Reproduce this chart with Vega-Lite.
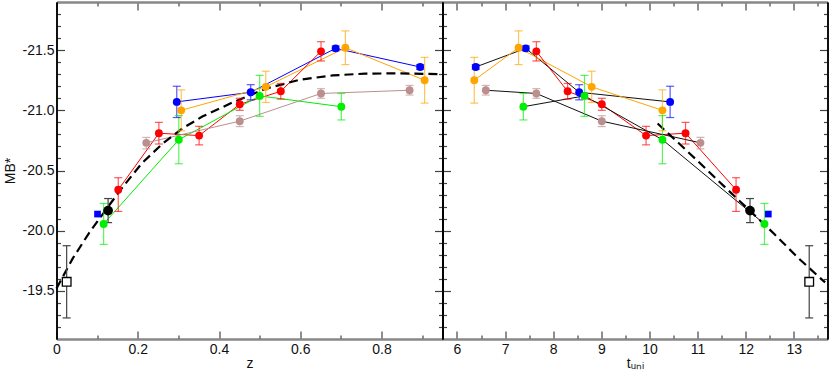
{
  "$schema": "https://vega.github.io/schema/vega-lite/v6.json",
  "padding": {"left": 2.5, "top": 1, "right": 2, "bottom": 0},
  "spacing": 0,
  "bounds": "flush",
  "config": {
    "view": {"stroke": null},
    "font": "Liberation Sans",
    "axis": {"grid": false, "labelFont": "Liberation Sans", "labelFontSize": 14, "labelColor": "#111", "titleFont": "Liberation Sans", "titleFontSize": 14, "titleFontWeight": "normal", "titleColor": "#111", "tickColor": "#444", "tickWidth": 1.2, "labelFlush": false, "labelOverlap": false}
  },
  "datasets": {
    "pts": [
      {"s": "s1", "z": 0.296, "t": 10.43, "M": -21.07, "lo": -21.2, "hi": -20.94},
      {"s": "s1", "z": 0.478, "t": 8.54, "M": -21.15, "lo": -21.213, "hi": -21.087},
      {"s": "s1", "z": 0.687, "t": 7.43, "M": -21.515, "lo": -21.535, "hi": -21.495},
      {"s": "s1", "z": 0.895, "t": 6.39, "M": -21.36, "lo": -21.38, "hi": -21.34},
      {"s": "s2", "z": 0.307, "t": 10.27, "M": -21.0, "lo": -21.17, "hi": -20.83},
      {"s": "s2", "z": 0.515, "t": 8.8, "M": -21.195, "lo": -21.325, "hi": -21.065},
      {"s": "s2", "z": 0.711, "t": 7.28, "M": -21.52, "lo": -21.66, "hi": -21.38},
      {"s": "s2", "z": 0.906, "t": 6.36, "M": -21.25, "lo": -21.44, "hi": -21.06},
      {"s": "s3", "z": 0.152, "t": 11.8, "M": -20.34, "lo": -20.44, "hi": -20.16},
      {"s": "s3", "z": 0.252, "t": 10.75, "M": -20.81, "lo": -20.9, "hi": -20.72},
      {"s": "s3", "z": 0.351, "t": 9.93, "M": -20.79, "lo": -20.867, "hi": -20.713},
      {"s": "s3", "z": 0.451, "t": 9.01, "M": -21.05, "lo": -21.1, "hi": -21.0},
      {"s": "s3", "z": 0.552, "t": 8.3, "M": -21.158, "lo": -21.223, "hi": -21.093},
      {"s": "s3", "z": 0.651, "t": 7.65, "M": -21.49, "lo": -21.57, "hi": -21.41},
      {"s": "s4", "z": 0.116, "t": 12.39, "M": -20.056, "lo": -20.226, "hi": -19.886},
      {"s": "s4", "z": 0.301, "t": 10.27, "M": -20.756, "lo": -20.956, "hi": -20.556},
      {"s": "s4", "z": 0.5, "t": 8.65, "M": -21.12, "lo": -21.29, "hi": -20.95},
      {"s": "s4", "z": 0.701, "t": 7.38, "M": -21.03, "lo": -21.14, "hi": -20.92},
      {"s": "s5", "z": 0.221, "t": 11.06, "M": -20.73, "lo": -20.775, "hi": -20.68},
      {"s": "s5", "z": 0.451, "t": 9.01, "M": -20.91, "lo": -20.955, "hi": -20.865},
      {"s": "s5", "z": 0.651, "t": 7.65, "M": -21.14, "lo": -21.18, "hi": -21.1},
      {"s": "s5", "z": 0.869, "t": 6.6, "M": -21.167, "lo": -21.207, "hi": -21.127}
    ],
    "extras": [
      {"k": "bc", "z": 0.127, "t": 12.09, "M": -20.167, "lo": -20.267, "hi": -20.067},
      {"k": "bs", "z": 0.101, "t": 12.47, "M": -20.138},
      {"k": "os", "z": 0.025, "t": 13.32, "M": -19.575, "lo": -19.875, "hi": -19.275}
    ],
    "curveZ": [
      {"z": 0, "M": -19.52}, {"z": 0.04, "M": -19.77}, {"z": 0.08, "M": -19.98},
      {"z": 0.125, "M": -20.19}, {"z": 0.16, "M": -20.35}, {"z": 0.21, "M": -20.56},
      {"z": 0.26, "M": -20.72}, {"z": 0.31, "M": -20.85}, {"z": 0.36, "M": -20.95},
      {"z": 0.43, "M": -21.06}, {"z": 0.515, "M": -21.18}, {"z": 0.6, "M": -21.255},
      {"z": 0.68, "M": -21.29}, {"z": 0.76, "M": -21.305}, {"z": 0.84, "M": -21.307},
      {"z": 0.95, "M": -21.3}
    ],
    "curveT": [
      {"t": 10.17, "M": -20.89}, {"t": 10.6, "M": -20.73}, {"t": 11.0, "M": -20.58},
      {"t": 11.6, "M": -20.35}, {"t": 12.05, "M": -20.18}, {"t": 12.6, "M": -19.97},
      {"t": 13.1, "M": -19.77}, {"t": 13.65, "M": -19.57}
    ]
  },
  "hconcat": [
    {
      "width": 386,
      "height": 337,
      "resolve": {"axis": {"x": "independent", "y": "independent"}},
      "layer": [
        {
          "data": {"name": "pts"},
          "mark": {"type": "line", "strokeWidth": 1},
          "encoding": {
            "x": {"field": "z", "type": "quantitative", "scale": {"domain": [0, 0.95], "nice": false, "zero": false},
              "axis": {"orient": "bottom", "values": [0, 0.2, 0.4, 0.6, 0.8],
                "labelExpr": "datum.value==0 ? '0' : format(datum.value,'.1f')",
                "title": "z", "domainColor": "#888", "domainWidth": 2, "tickSize": -8, "labelPadding": 11, "titlePadding": 0}},
            "y": {"field": "M", "type": "quantitative", "scale": {"domain": [-21.9, -19.1], "reverse": true, "nice": false, "zero": false},
              "axis": {"orient": "left", "values": [-21.5, -21.0, -20.5, -20.0, -19.5],
                "labelExpr": "'-' + format(abs(datum.value),'.1f')",
                "title": "MB*", "domainColor": "#000", "domainWidth": 1.5, "tickSize": -8, "labelPadding": 10.5, "titlePadding": 5}},
            "color": {"field": "s", "type": "nominal", "scale": {"domain": ["s1", "s2", "s3", "s4", "s5"], "range": ["#0000ff", "#ffa500", "#ff0000", "#00ee00", "#bc8f8f"]}, "legend": null},
            "order": {"field": "z", "type": "quantitative"}
          }
        },
        {
          "data": {"name": "curveZ"},
          "mark": {"type": "line", "color": "#000", "strokeWidth": 2.2, "strokeDash": [9, 5]},
          "encoding": {
            "x": {"field": "z", "type": "quantitative", "scale": {"domain": [0, 0.95], "nice": false, "zero": false},
              "axis": {"orient": "top", "values": [0, 0.2, 0.4, 0.6, 0.8], "labels": false, "title": null, "domainColor": "#888", "domainWidth": 2, "tickSize": -8}},
            "y": {"field": "M", "type": "quantitative", "scale": {"domain": [-21.9, -19.1], "reverse": true, "nice": false, "zero": false},
              "axis": {"orient": "right", "values": [-21.5, -21.0, -20.5, -20.0, -19.5], "labels": false, "title": null, "domainColor": "#000", "domainWidth": 1.5, "tickSize": -8}}
          }
        },
        {
          "data": {"name": "pts"},
          "mark": {"type": "rule", "strokeWidth": 1.2, "opacity": 0.65},
          "encoding": {
            "x": {"field": "z", "type": "quantitative", "scale": {"domain": [0, 0.95], "nice": false, "zero": false},
              "axis": {"orient": "bottom", "values": [0.1, 0.3, 0.5, 0.7, 0.9], "labels": false, "title": null, "domainColor": "#888", "domainWidth": 2, "tickSize": -4}},
            "y": {"field": "lo", "type": "quantitative", "scale": {"domain": [-21.9, -19.1], "reverse": true, "nice": false, "zero": false},
              "axis": {"orient": "left", "values": [-21.8, -21.7, -21.6, -21.4, -21.3, -21.2, -21.1, -20.9, -20.8, -20.7, -20.6, -20.4, -20.3, -20.2, -20.1, -19.9, -19.8, -19.7, -19.6, -19.4, -19.3, -19.2], "labels": false, "title": null, "domainColor": "#000", "domainWidth": 1.5, "tickSize": -4}},
            "y2": {"field": "hi"},
            "color": {"field": "s", "type": "nominal", "scale": {"domain": ["s1", "s2", "s3", "s4", "s5"], "range": ["#0000ff", "#ffa500", "#ff0000", "#00ee00", "#bc8f8f"]}, "legend": null}
          }
        },
        {
          "data": {"name": "pts"},
          "mark": {"type": "tick", "orient": "horizontal", "size": 8, "thickness": 1.2, "opacity": 0.65},
          "encoding": {
            "x": {"field": "z", "type": "quantitative", "scale": {"domain": [0, 0.95], "nice": false, "zero": false},
              "axis": {"orient": "top", "values": [0.1, 0.3, 0.5, 0.7, 0.9], "labels": false, "title": null, "domainColor": "#888", "domainWidth": 2, "tickSize": -4}},
            "y": {"field": "lo", "type": "quantitative", "scale": {"domain": [-21.9, -19.1], "reverse": true, "nice": false, "zero": false},
              "axis": {"orient": "right", "values": [-21.8, -21.7, -21.6, -21.4, -21.3, -21.2, -21.1, -20.9, -20.8, -20.7, -20.6, -20.4, -20.3, -20.2, -20.1, -19.9, -19.8, -19.7, -19.6, -19.4, -19.3, -19.2], "labels": false, "title": null, "domainColor": "#000", "domainWidth": 1.5, "tickSize": -4}},
            "color": {"field": "s", "type": "nominal", "scale": {"domain": ["s1", "s2", "s3", "s4", "s5"], "range": ["#0000ff", "#ffa500", "#ff0000", "#00ee00", "#bc8f8f"]}, "legend": null}
          }
        },
        {
          "data": {"name": "pts"},
          "mark": {"type": "tick", "orient": "horizontal", "size": 8, "thickness": 1.2, "opacity": 0.65},
          "encoding": {
            "x": {"field": "z", "type": "quantitative", "scale": {"domain": [0, 0.95], "nice": false, "zero": false}, "axis": null},
            "y": {"field": "hi", "type": "quantitative", "scale": {"domain": [-21.9, -19.1], "reverse": true, "nice": false, "zero": false}, "axis": null},
            "color": {"field": "s", "type": "nominal", "scale": {"domain": ["s1", "s2", "s3", "s4", "s5"], "range": ["#0000ff", "#ffa500", "#ff0000", "#00ee00", "#bc8f8f"]}, "legend": null}
          }
        },
        {
          "data": {"name": "extras"},
          "transform": [{"filter": "isValid(datum.lo)"}],
          "mark": {"type": "rule", "strokeWidth": 1.2, "color": "#444"},
          "encoding": {
            "x": {"field": "z", "type": "quantitative", "scale": {"domain": [0, 0.95], "nice": false, "zero": false}, "axis": null},
            "y": {"field": "lo", "type": "quantitative", "scale": {"domain": [-21.9, -19.1], "reverse": true, "nice": false, "zero": false}, "axis": null},
            "y2": {"field": "hi"}
          }
        },
        {
          "data": {"name": "extras"},
          "transform": [{"filter": "isValid(datum.lo)"}],
          "mark": {"type": "tick", "orient": "horizontal", "size": 8, "thickness": 1.2, "color": "#444", "opacity": 1},
          "encoding": {
            "x": {"field": "z", "type": "quantitative", "scale": {"domain": [0, 0.95], "nice": false, "zero": false}, "axis": null},
            "y": {"field": "lo", "type": "quantitative", "scale": {"domain": [-21.9, -19.1], "reverse": true, "nice": false, "zero": false}, "axis": null}
          }
        },
        {
          "data": {"name": "extras"},
          "transform": [{"filter": "isValid(datum.hi)"}],
          "mark": {"type": "tick", "orient": "horizontal", "size": 8, "thickness": 1.2, "color": "#444", "opacity": 1},
          "encoding": {
            "x": {"field": "z", "type": "quantitative", "scale": {"domain": [0, 0.95], "nice": false, "zero": false}, "axis": null},
            "y": {"field": "hi", "type": "quantitative", "scale": {"domain": [-21.9, -19.1], "reverse": true, "nice": false, "zero": false}, "axis": null}
          }
        },
        {
          "data": {"name": "pts"},
          "mark": {"type": "circle", "size": 62, "opacity": 1},
          "encoding": {
            "x": {"field": "z", "type": "quantitative", "scale": {"domain": [0, 0.95], "nice": false, "zero": false}, "axis": null},
            "y": {"field": "M", "type": "quantitative", "scale": {"domain": [-21.9, -19.1], "reverse": true, "nice": false, "zero": false}, "axis": null},
            "color": {"field": "s", "type": "nominal", "scale": {"domain": ["s1", "s2", "s3", "s4", "s5"], "range": ["#0000ff", "#ffa500", "#ff0000", "#00ee00", "#bc8f8f"]}, "legend": null}
          }
        },
        {
          "data": {"name": "extras"},
          "transform": [{"filter": "datum.k=='bc'"}],
          "mark": {"type": "circle", "size": 95, "opacity": 1, "color": "#000"},
          "encoding": {
            "x": {"field": "z", "type": "quantitative", "scale": {"domain": [0, 0.95], "nice": false, "zero": false}, "axis": null},
            "y": {"field": "M", "type": "quantitative", "scale": {"domain": [-21.9, -19.1], "reverse": true, "nice": false, "zero": false}, "axis": null}
          }
        },
        {
          "data": {"name": "extras"},
          "transform": [{"filter": "datum.k=='bs'"}],
          "mark": {"type": "square", "size": 45, "opacity": 1, "color": "#0000ff"},
          "encoding": {
            "x": {"field": "z", "type": "quantitative", "scale": {"domain": [0, 0.95], "nice": false, "zero": false}, "axis": null},
            "y": {"field": "M", "type": "quantitative", "scale": {"domain": [-21.9, -19.1], "reverse": true, "nice": false, "zero": false}, "axis": null}
          }
        },
        {
          "data": {"name": "extras"},
          "transform": [{"filter": "datum.k=='os'"}],
          "mark": {"type": "square", "size": 75, "opacity": 1, "filled": false, "fill": "#fff", "stroke": "#000", "strokeWidth": 1.3},
          "encoding": {
            "x": {"field": "z", "type": "quantitative", "scale": {"domain": [0, 0.95], "nice": false, "zero": false}, "axis": null},
            "y": {"field": "M", "type": "quantitative", "scale": {"domain": [-21.9, -19.1], "reverse": true, "nice": false, "zero": false}, "axis": null}
          }
        }
      ]
    },
    {
      "width": 385,
      "height": 337,
      "resolve": {"axis": {"x": "independent", "y": "independent"}},
      "layer": [
        {
          "data": {"name": "pts"},
          "mark": {"type": "line", "strokeWidth": 1},
          "encoding": {
            "x": {"field": "t", "type": "quantitative", "scale": {"domain": [5.7, 13.7], "nice": false, "zero": false},
              "axis": {"orient": "bottom", "values": [6, 7, 8, 9, 10, 11, 12, 13], "format": "d",
                "title": "tᵤₙᵢ", "domainColor": "#888", "domainWidth": 2, "tickSize": -8, "labelPadding": 11, "titlePadding": 0}},
            "y": {"field": "M", "type": "quantitative", "scale": {"domain": [-21.9, -19.1], "reverse": true, "nice": false, "zero": false},
              "axis": {"orient": "left", "values": [-21.5, -21.0, -20.5, -20.0, -19.5], "labels": false, "title": null, "domainColor": "#000", "domainWidth": 1.5, "tickSize": -8}},
            "color": {"condition": {"test": "datum.s=='s2' || datum.s=='s3'", "field": "s", "type": "nominal", "scale": {"domain": ["s1", "s2", "s3", "s4", "s5"], "range": ["#0000ff", "#ffa500", "#ff0000", "#00ee00", "#bc8f8f"]}, "legend": null}, "value": "#111"},
            "detail": {"field": "s", "type": "nominal"},
            "order": {"field": "t", "type": "quantitative"}
          }
        },
        {
          "data": {"name": "curveT"},
          "mark": {"type": "line", "color": "#000", "strokeWidth": 2.2, "strokeDash": [9, 5]},
          "encoding": {
            "x": {"field": "t", "type": "quantitative", "scale": {"domain": [5.7, 13.7], "nice": false, "zero": false},
              "axis": {"orient": "top", "values": [6, 7, 8, 9, 10, 11, 12, 13], "labels": false, "title": null, "domainColor": "#888", "domainWidth": 2, "tickSize": -8}},
            "y": {"field": "M", "type": "quantitative", "scale": {"domain": [-21.9, -19.1], "reverse": true, "nice": false, "zero": false},
              "axis": {"orient": "right", "values": [-21.5, -21.0, -20.5, -20.0, -19.5], "labels": false, "title": null, "domainColor": "#000", "domainWidth": 1.5, "tickSize": -8}}
          }
        },
        {
          "data": {"name": "pts"},
          "mark": {"type": "rule", "strokeWidth": 1.2, "opacity": 0.65},
          "encoding": {
            "x": {"field": "t", "type": "quantitative", "scale": {"domain": [5.7, 13.7], "nice": false, "zero": false},
              "axis": {"orient": "bottom", "values": [6.5, 7.5, 8.5, 9.5, 10.5, 11.5, 12.5, 13.5], "labels": false, "title": null, "domainColor": "#888", "domainWidth": 2, "tickSize": -4}},
            "y": {"field": "lo", "type": "quantitative", "scale": {"domain": [-21.9, -19.1], "reverse": true, "nice": false, "zero": false},
              "axis": {"orient": "left", "values": [-21.8, -21.7, -21.6, -21.4, -21.3, -21.2, -21.1, -20.9, -20.8, -20.7, -20.6, -20.4, -20.3, -20.2, -20.1, -19.9, -19.8, -19.7, -19.6, -19.4, -19.3, -19.2], "labels": false, "title": null, "domainColor": "#000", "domainWidth": 1.5, "tickSize": -4}},
            "y2": {"field": "hi"},
            "color": {"field": "s", "type": "nominal", "scale": {"domain": ["s1", "s2", "s3", "s4", "s5"], "range": ["#0000ff", "#ffa500", "#ff0000", "#00ee00", "#bc8f8f"]}, "legend": null}
          }
        },
        {
          "data": {"name": "pts"},
          "mark": {"type": "tick", "orient": "horizontal", "size": 8, "thickness": 1.2, "opacity": 0.65},
          "encoding": {
            "x": {"field": "t", "type": "quantitative", "scale": {"domain": [5.7, 13.7], "nice": false, "zero": false},
              "axis": {"orient": "top", "values": [6.5, 7.5, 8.5, 9.5, 10.5, 11.5, 12.5, 13.5], "labels": false, "title": null, "domainColor": "#888", "domainWidth": 2, "tickSize": -4}},
            "y": {"field": "lo", "type": "quantitative", "scale": {"domain": [-21.9, -19.1], "reverse": true, "nice": false, "zero": false},
              "axis": {"orient": "right", "values": [-21.8, -21.7, -21.6, -21.4, -21.3, -21.2, -21.1, -20.9, -20.8, -20.7, -20.6, -20.4, -20.3, -20.2, -20.1, -19.9, -19.8, -19.7, -19.6, -19.4, -19.3, -19.2], "labels": false, "title": null, "domainColor": "#000", "domainWidth": 1.5, "tickSize": -4}},
            "color": {"field": "s", "type": "nominal", "scale": {"domain": ["s1", "s2", "s3", "s4", "s5"], "range": ["#0000ff", "#ffa500", "#ff0000", "#00ee00", "#bc8f8f"]}, "legend": null}
          }
        },
        {
          "data": {"name": "pts"},
          "mark": {"type": "tick", "orient": "horizontal", "size": 8, "thickness": 1.2, "opacity": 0.65},
          "encoding": {
            "x": {"field": "t", "type": "quantitative", "scale": {"domain": [5.7, 13.7], "nice": false, "zero": false}, "axis": null},
            "y": {"field": "hi", "type": "quantitative", "scale": {"domain": [-21.9, -19.1], "reverse": true, "nice": false, "zero": false}, "axis": null},
            "color": {"field": "s", "type": "nominal", "scale": {"domain": ["s1", "s2", "s3", "s4", "s5"], "range": ["#0000ff", "#ffa500", "#ff0000", "#00ee00", "#bc8f8f"]}, "legend": null}
          }
        },
        {
          "data": {"name": "extras"},
          "transform": [{"filter": "isValid(datum.lo)"}],
          "mark": {"type": "rule", "strokeWidth": 1.2, "color": "#444"},
          "encoding": {
            "x": {"field": "t", "type": "quantitative", "scale": {"domain": [5.7, 13.7], "nice": false, "zero": false}, "axis": null},
            "y": {"field": "lo", "type": "quantitative", "scale": {"domain": [-21.9, -19.1], "reverse": true, "nice": false, "zero": false}, "axis": null},
            "y2": {"field": "hi"}
          }
        },
        {
          "data": {"name": "extras"},
          "transform": [{"filter": "isValid(datum.lo)"}],
          "mark": {"type": "tick", "orient": "horizontal", "size": 8, "thickness": 1.2, "color": "#444", "opacity": 1},
          "encoding": {
            "x": {"field": "t", "type": "quantitative", "scale": {"domain": [5.7, 13.7], "nice": false, "zero": false}, "axis": null},
            "y": {"field": "lo", "type": "quantitative", "scale": {"domain": [-21.9, -19.1], "reverse": true, "nice": false, "zero": false}, "axis": null}
          }
        },
        {
          "data": {"name": "extras"},
          "transform": [{"filter": "isValid(datum.hi)"}],
          "mark": {"type": "tick", "orient": "horizontal", "size": 8, "thickness": 1.2, "color": "#444", "opacity": 1},
          "encoding": {
            "x": {"field": "t", "type": "quantitative", "scale": {"domain": [5.7, 13.7], "nice": false, "zero": false}, "axis": null},
            "y": {"field": "hi", "type": "quantitative", "scale": {"domain": [-21.9, -19.1], "reverse": true, "nice": false, "zero": false}, "axis": null}
          }
        },
        {
          "data": {"name": "pts"},
          "mark": {"type": "circle", "size": 62, "opacity": 1},
          "encoding": {
            "x": {"field": "t", "type": "quantitative", "scale": {"domain": [5.7, 13.7], "nice": false, "zero": false}, "axis": null},
            "y": {"field": "M", "type": "quantitative", "scale": {"domain": [-21.9, -19.1], "reverse": true, "nice": false, "zero": false}, "axis": null},
            "color": {"field": "s", "type": "nominal", "scale": {"domain": ["s1", "s2", "s3", "s4", "s5"], "range": ["#0000ff", "#ffa500", "#ff0000", "#00ee00", "#bc8f8f"]}, "legend": null}
          }
        },
        {
          "data": {"name": "extras"},
          "transform": [{"filter": "datum.k=='bc'"}],
          "mark": {"type": "circle", "size": 95, "opacity": 1, "color": "#000"},
          "encoding": {
            "x": {"field": "t", "type": "quantitative", "scale": {"domain": [5.7, 13.7], "nice": false, "zero": false}, "axis": null},
            "y": {"field": "M", "type": "quantitative", "scale": {"domain": [-21.9, -19.1], "reverse": true, "nice": false, "zero": false}, "axis": null}
          }
        },
        {
          "data": {"name": "extras"},
          "transform": [{"filter": "datum.k=='bs'"}],
          "mark": {"type": "square", "size": 45, "opacity": 1, "color": "#0000ff"},
          "encoding": {
            "x": {"field": "t", "type": "quantitative", "scale": {"domain": [5.7, 13.7], "nice": false, "zero": false}, "axis": null},
            "y": {"field": "M", "type": "quantitative", "scale": {"domain": [-21.9, -19.1], "reverse": true, "nice": false, "zero": false}, "axis": null}
          }
        },
        {
          "data": {"name": "extras"},
          "transform": [{"filter": "datum.k=='os'"}],
          "mark": {"type": "square", "size": 75, "opacity": 1, "filled": false, "fill": "#fff", "stroke": "#000", "strokeWidth": 1.3},
          "encoding": {
            "x": {"field": "t", "type": "quantitative", "scale": {"domain": [5.7, 13.7], "nice": false, "zero": false}, "axis": null},
            "y": {"field": "M", "type": "quantitative", "scale": {"domain": [-21.9, -19.1], "reverse": true, "nice": false, "zero": false}, "axis": null}
          }
        }
      ]
    }
  ]
}
